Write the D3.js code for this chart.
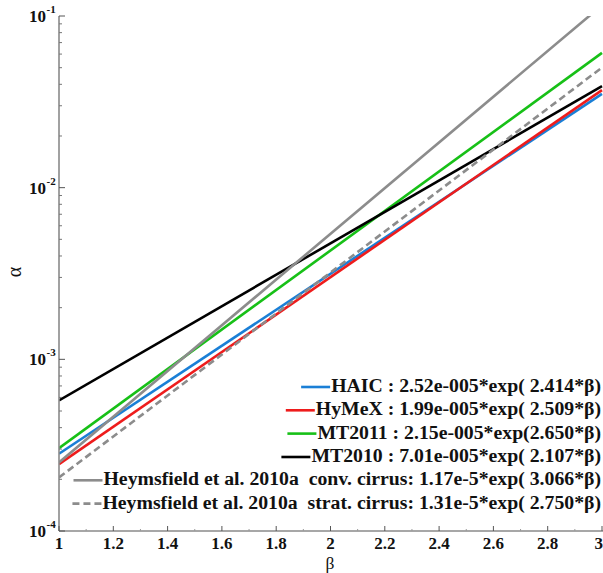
<!DOCTYPE html>
<html>
<head>
<meta charset="utf-8">
<script src="https://cdn.jsdelivr.net/npm/d3@7"></script>
<style>
  html, body { margin: 0; padding: 0; background: #fff; }
  svg { display: block; }
</style>
</head>
<body>
<svg id="chart" width="603" height="573"></svg>
<script>
// ---- data (values read at beta = 1 and beta = 3) ----
const betaPoints = [1, 3];
const seriesNames = ["HAIC", "HyMeX", "MT2011", "MT2010", "HeymsConv", "HeymsStrat"];
const haicValues   = [2.82e-4, 3.52e-2];
const hymexValues  = [2.45e-4, 3.70e-2];
const mt2011Values = [3.04e-4, 6.10e-2];
const mt2010Values = [5.76e-4, 3.90e-2];
const convValues   = [2.51e-4, 1.155e-1];
const stratValues  = [2.05e-4, 5.01e-2];
const legendLabels = [
  "HAIC : 2.52e-005*exp( 2.414*\u03b2)",
  "HyMeX : 1.99e-005*exp( 2.509*\u03b2)",
  "MT2011 : 2.15e-005*exp(2.650*\u03b2)",
  "MT2010 : 7.01e-005*exp( 2.107*\u03b2)",
  "Heymsfield et al. 2010a  conv. cirrus: 1.17e-5*exp( 3.066*\u03b2)",
  "Heymsfield et al. 2010a  strat. cirrus: 1.31e-5*exp( 2.750*\u03b2)"
];
const xTicks = [1, 1.2, 1.4, 1.6, 1.8, 2, 2.2, 2.4, 2.6, 2.8, 3];
const xTickLabels = ["1", "1.2", "1.4", "1.6", "1.8", "2", "2.2", "2.4", "2.6", "2.8", "3"];
const yDecades = [1e-4, 1e-3, 1e-2, 1e-1];
const yDecadeExps = ["-4", "-3", "-2", "-1"];

(function () {
const allValues = [haicValues, hymexValues, mt2011Values, mt2010Values, convValues, stratValues];
const colors = ["#1a7fd6", "#ee1c1c", "#17c017", "#000000", "#8c8c8c", "#8c8c8c"];
const dashes = [null, null, null, null, null, "7,4"];
const FONT = "Liberation Serif";

// ---- layout ----
const svg = d3.select("#chart");
const pL = 59, pR = 602, pT = 16, pB = 531;
const x = d3.scaleLinear().domain([1, 3]).range([pL, pR]);
const y = d3.scaleLog().domain([1e-4, 1e-1]).range([pB, pT]);
const axisColor = "#8a8a8a";

svg.append("defs").append("clipPath").attr("id", "plotclip")
  .append("rect").attr("x", pL).attr("y", pT).attr("width", pR - pL + 2).attr("height", pB - pT);

// ---- lines ----
const line = d3.line().x(d => x(d[0])).y(d => y(d[1]));
const lineG = svg.append("g").attr("clip-path", "url(#plotclip)");
allValues.forEach((vals, i) => {
  const pts = betaPoints.map((b, k) => [b, vals[k]]);
  lineG.append("path")
    .attr("d", line(pts))
    .attr("fill", "none")
    .attr("stroke", colors[i])
    .attr("stroke-width", 2.6)
    .attr("stroke-dasharray", dashes[i]);
});

// ---- axes ----
const axG = svg.append("g");
axG.append("line").attr("x1", pL).attr("x2", pL).attr("y1", pT).attr("y2", pB)
  .attr("stroke", axisColor).attr("stroke-width", 1.6);
axG.append("line").attr("x1", pL).attr("x2", pR + 2).attr("y1", pB).attr("y2", pB)
  .attr("stroke", axisColor).attr("stroke-width", 1.6);

// y ticks
const yTickList = [];
yDecades.forEach(d => {
  for (let m = 1; m <= 9; m++) {
    const v = d * m;
    if (v <= 1e-1 * 1.0001) yTickList.push({v: v, major: m === 1});
  }
});
yTickList.forEach(t => {
  axG.append("line")
    .attr("x1", pL).attr("x2", pL + (t.major ? 6 : 3))
    .attr("y1", y(t.v)).attr("y2", y(t.v))
    .attr("stroke", t.major ? "#555" : "#777").attr("stroke-width", 1);
});

// y decade labels
yDecades.forEach((v, i) => {
  axG.append("text")
    .attr("x", 46).attr("y", y(v) + 6)
    .attr("text-anchor", "end").attr("font-family", FONT)
    .attr("font-size", 17).attr("font-weight", "bold").attr("fill", "#111")
    .text("10");
  axG.append("text")
    .attr("x", 46.5).attr("y", y(v) - 3)
    .attr("font-family", FONT)
    .attr("font-size", 11).attr("font-weight", "bold").attr("fill", "#111")
    .text(yDecadeExps[i]);
});

// x ticks
const xMinor = d3.range(1.1, 3, 0.2);
xMinor.forEach(v => {
  axG.append("line").attr("x1", x(v)).attr("x2", x(v)).attr("y1", pB).attr("y2", pB - 2)
    .attr("stroke", "#999").attr("stroke-width", 1);
});
xTicks.forEach((v, i) => {
  axG.append("line").attr("x1", x(v)).attr("x2", x(v)).attr("y1", pB).attr("y2", pB - 5)
    .attr("stroke", "#555").attr("stroke-width", 1);
  const last = i === xTicks.length - 1;
  axG.append("text")
    .attr("x", last ? 603 : x(v)).attr("y", 549)
    .attr("text-anchor", last ? "end" : "middle").attr("font-family", FONT)
    .attr("font-size", 17).attr("font-weight", "bold").attr("fill", "#111")
    .text(xTickLabels[i]);
});

// axis titles
svg.append("text").attr("x", 330).attr("y", 568.5).attr("text-anchor", "middle")
  .attr("font-family", FONT).attr("font-size", 17.5).attr("fill", "#111").text("\u03b2");
svg.append("text").attr("transform", "translate(21,272) rotate(-90)").attr("text-anchor", "middle")
  .attr("font-family", FONT).attr("font-size", 20).attr("fill", "#111").text("\u03b1");

// ---- legend ----
const legRowY = [386, 409.3, 432.6, 456, 479.3, 502.6];
const legG = svg.append("g");
// size the legend font so the first row spans ~270 px as in the reference
const probe = legG.append("text").attr("font-family", FONT).attr("font-weight", "bold")
  .attr("font-size", 17).text(legendLabels[0]);
const fs = Math.min(20.5, Math.max(14, 17 * 270 / probe.node().getComputedTextLength()));
probe.remove();
legendLabels.forEach((lab, i) => {
  const t = legG.append("text")
    .attr("x", 601).attr("y", legRowY[i] + 6)
    .attr("text-anchor", "end").attr("font-family", FONT)
    .attr("font-size", fs).attr("font-weight", "bold").attr("fill", "#111")
    .style("white-space", "pre")
    .text(lab);
  const w = t.node().getComputedTextLength();
  const xs = 601 - w - 1;
  legG.append("line")
    .attr("x1", xs - 29).attr("x2", xs)
    .attr("y1", legRowY[i] + 1).attr("y2", legRowY[i] + 1)
    .attr("stroke", colors[i]).attr("stroke-width", 2.6)
    .attr("stroke-dasharray", dashes[i]);
});
})();
</script>
</body>
</html>
